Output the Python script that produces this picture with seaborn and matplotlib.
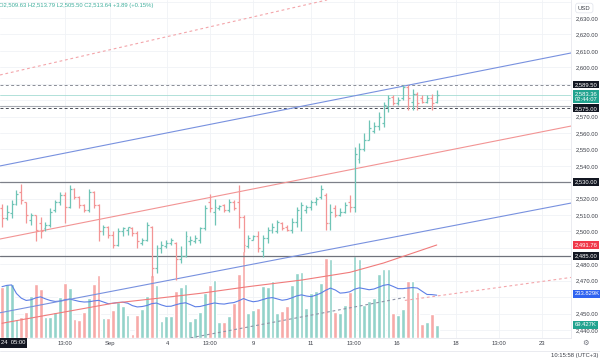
import matplotlib
matplotlib.use("Agg")
import matplotlib.pyplot as plt
import matplotlib.transforms as mtransforms
import numpy as np
import pandas as pd
import seaborn as sns

# 4H bars
opens = [2514, 2508, 2511, 2517, 2524, 2518, 2507, 2510, 2505, 2502,
         2504, 2513, 2518, 2522, 2515, 2526, 2521, 2516, 2513, 2524,
         2516, 2500, 2503, 2498, 2492, 2500, 2501, 2502, 2499, 2493,
         2495, 2503, 2478, 2490, 2491, 2493, 2493, 2483, 2485, 2494,
         2494, 2495, 2502, 2518, 2512, 2514, 2516, 2513, 2518, 2518,
         2509, 2491, 2495, 2497, 2488, 2496, 2501, 2500, 2505, 2503,
         2501, 2506, 2508, 2513, 2515, 2518, 2521, 2522, 2505, 2514,
         2510, 2512, 2518, 2515, 2544, 2550, 2556, 2561, 2564, 2566,
         2576, 2582, 2578, 2581, 2588, 2579, 2584, 2581, 2579, 2581,
         2579]
highs = [2517, 2516, 2519, 2525, 2529, 2518, 2511, 2510, 2509, 2506,
         2514, 2519, 2524, 2524, 2528.5, 2526.5, 2521.5, 2517, 2526, 2524.5,
         2517, 2504, 2503.5, 2500, 2502, 2503, 2503, 2502.5, 2500, 2496,
         2506, 2503.5, 2492, 2494, 2495, 2496, 2493.5, 2491, 2500, 2497,
         2498, 2503, 2516, 2523, 2520, 2516, 2517, 2520, 2519, 2528.3,
         2510, 2498, 2498, 2500, 2498, 2503, 2505, 2507, 2505.5, 2504,
         2508, 2515, 2518, 2516, 2519, 2521, 2528.3, 2523.2, 2517, 2516,
         2514, 2518, 2522, 2551.6, 2553.6, 2559.7, 2567.8, 2566.8, 2572.9, 2579,
         2583, 2583, 2582, 2589.2, 2589.2, 2587, 2585, 2583, 2583, 2584,
         2586]
lows = [2503, 2507, 2508, 2516, 2517, 2505, 2504, 2494, 2496, 2500,
        2503, 2512, 2516, 2505, 2514, 2520, 2514, 2512, 2512, 2514,
        2494, 2498, 2496, 2490, 2491, 2497, 2498, 2497, 2490, 2492,
        2494, 2472.5, 2474.5, 2487, 2490, 2492, 2470.5, 2480.5, 2484.5, 2492,
        2493, 2493, 2501, 2512, 2504, 2513, 2512, 2512, 2513, 2502,
        2487.7, 2489.7, 2494.8, 2487.7, 2484.7, 2492.8, 2499, 2499, 2501, 2500,
        2499, 2503, 2500, 2511, 2513, 2516, 2520, 2501, 2501, 2509,
        2509.5, 2511, 2512, 2512, 2541.5, 2549, 2555.7, 2559.7, 2561.8, 2563.8,
        2573, 2577, 2577, 2580, 2574, 2574, 2574, 2578, 2578, 2574,
        2578.5]
closes = [2508, 2512, 2517, 2523, 2519, 2510, 2510, 2501, 2500, 2504,
          2512, 2518, 2522, 2515, 2526, 2521, 2516, 2513, 2524, 2516,
          2500, 2503, 2498, 2492, 2500, 2502, 2502.5, 2499, 2494, 2495,
          2504, 2478, 2490, 2492, 2493, 2495, 2483, 2485, 2497, 2495,
          2496, 2502, 2514, 2514, 2515, 2515.5, 2513, 2518, 2514, 2509,
          2492, 2496, 2497, 2490, 2496, 2501, 2503, 2506, 2502, 2501,
          2506, 2513, 2516, 2515, 2518, 2520, 2526, 2505, 2512, 2510,
          2512, 2516, 2515, 2547, 2550, 2556, 2563, 2564, 2570, 2577,
          2581, 2578, 2580, 2588, 2581, 2584, 2578, 2579, 2581, 2578,
          2583.36]
volumes_k = [270, 284, 284, 98, 112, 138, 221, 284, 258, 110,
             112, 138, 217, 288, 265, 100, 95, 135, 209, 284,
             332, 107, 107, 147, 191, 170, 121, 21, 121, 151,
             223, 332, 279, 89, 116, 116, 249, 270, 282, 89,
             107, 135, 235, 279, 305, 86, 86, 118, 182, 337,
             458, 130, 147, 160, 275, 270, 302, 130, 142, 168,
             279, 340, 349, 156, 235, 250, 290, 420, 414, 138,
             130, 174, 244, 433, 416, 174, 196, 209, 337, 363,
             363, 133, 121, 153, 300, 300, 240, 74, 83, 125,
             69.427]

# moving average on price (red curve), sampled points
sma_bars = [0, 23, 31, 41, 51, 62, 72, 79, 90]
sma_vals = [2444.1, 2456.3, 2458.9, 2462.3, 2466.4, 2470.4, 2475.1, 2480.8, 2491.76]

# drawn trend lines: (bar0, price0, bar1, price1)
blue_upper = (-0.414, 2539.9, 117.8, 2608.7)
blue_lower = (-0.414, 2450.5, 117.8, 2517.3)
red_mid = (-0.414, 2495.4, 117.8, 2564.2)
red_dash_top = (-0.414, 2595.3, 67.3, 2641.0)
gray_dash = (30.0, 2430.2, 83.4, 2459.8)
red_dash_low = (83.4, 2458.0, 117.8, 2472.0)

time_ticks = [13.0, 22.4, 34.2, 43.1, 52.0, 64.0, 72.9, 81.8, 94.0, 102.9, 111.8]
time_labels = ["13:00", "Sep", "4", "13:00", "9", "11", "13:00", "16", "18", "13:00", "23"]
price_ticks = [2630, 2620, 2610, 2600, 2570, 2560, 2550, 2540, 2520, 2510,
               2500, 2480, 2470, 2450, 2440]

sns.set_theme(style="white")
plt.rcParams["font.family"] = ["Liberation Sans", "DejaVu Sans"]

W, H = 600, 363
FS = 4.2
fig = plt.figure(figsize=(W / 100, H / 100), dpi=100)
ax = fig.add_axes([0, 1 - 338 / H, 571 / W, 338 / H])
ax_vol = ax.twinx()
ax.set_zorder(ax_vol.get_zorder() + 1)
ax.patch.set_visible(False)
ax_vol.set_facecolor("white")

ylo, yhi = 2435.12, 2640.96
vol_top = 338 / 0.19
xlo, xhi = -0.414, 117.8

bars = np.arange(len(closes))
up = np.array(closes) >= np.array(opens)
bar_cols = ["#6fc4b6" if u else "#f39595" for u in up]
vol_cols = ["#93d3ca" if u else "#f7aaa8" for u in up]

# grid under everything
for p in range(2440, 2641, 10):
    ax_vol.axhline((p - ylo) / (yhi - ylo) * vol_top, color="#f0f2f6", lw=0.6, zorder=0)
for t in time_ticks:
    ax_vol.axvline(t, color="#f0f2f6", lw=0.6, zorder=0)

# volume
ax_vol.bar(bars, volumes_k, width=0.78, color=vol_cols, zorder=1)
vol_ma = pd.Series(volumes_k).rolling(20, min_periods=1).mean()
sns.lineplot(x=bars, y=vol_ma.values, ax=ax_vol, color="#5d7fe6", linewidth=0.8, zorder=2)
ax_vol.set_ylim(0, vol_top)
ax_vol.set_yticks([])

# horizontal levels
ax.axhline(2589.5, color="#8a8d96", lw=0.7, ls=(0, (3, 2.5)))
ax.axhline(2583.36, color="#a5dcd3", lw=0.6)
ax.axhline(2576.3, color="#a7aab2", lw=0.8)
ax.axhline(2575.0, color="#4a4d57", lw=0.7, ls=(0, (3, 2.5)))
ax.axhline(2530, color="#7d8089", lw=0.9)
ax.axhline(2485, color="#6f727b", lw=0.9)

# trend lines
for (x0, p0, x1, p1), col, ls in [
        (blue_upper, "#7891df", "-"), (blue_lower, "#7891df", "-"),
        (red_mid, "#f29494", "-"), (red_dash_top, "#f3a5aa", (0, (2.5, 2.5))),
        (gray_dash, "#8d93a6", (0, (2.5, 2.5))), (red_dash_low, "#f3a5aa", (0, (2.5, 2.5)))]:
    ax.plot([x0, x1], [p0, p1], color=col, lw=0.8, ls=ls)

sns.lineplot(x=sma_bars, y=sma_vals, ax=ax, color="#f07b7b", linewidth=0.8)

# OHLC bars
ax.vlines(bars, lows, highs, colors=bar_cols, linewidth=0.9, zorder=5)
ax.hlines(opens, bars - 0.4, bars, colors=bar_cols, linewidth=0.9, zorder=5)
ax.hlines(closes, bars, bars + 0.4, colors=bar_cols, linewidth=0.9, zorder=5)

ax.set_xlim(xlo, xhi)
ax.set_ylim(ylo, yhi)
ax.yaxis.tick_right()
ax.set_yticks(price_ticks, [f"{v:,.2f}" for v in price_ticks])
ax.set_xticks(time_ticks, time_labels)
ax.tick_params(axis="y", length=0, pad=3.5, labelsize=FS, labelcolor="#3b3e47")
ax.tick_params(axis="x", length=0, pad=2.5, labelsize=FS, labelcolor="#3b3e47")
for a in (ax, ax_vol):
    for s in a.spines.values():
        s.set_visible(False)
ax.spines["right"].set_visible(True)
ax.spines["right"].set_color("#e6e8ee")
ax.spines["right"].set_linewidth(0.6)
ax.spines["bottom"].set_visible(True)
ax.spines["bottom"].set_color("#e6e8ee")
ax.spines["bottom"].set_linewidth(0.6)


def tag(axis, y, text, fc):
    tr = mtransforms.blended_transform_factory(axis.transAxes, axis.transData)
    axis.text(1.006, y, text, transform=tr, ha="left", va="center", fontsize=FS,
              color="white", linespacing=1.1, clip_on=False, zorder=20,
              bbox=dict(boxstyle="square,pad=0.25", fc=fc, ec="none"))


tag(ax, 2589.5, "2,589.50", "#131722")
tag(ax, 2582.2, "2,583.36\n02:44:07", "#22a38f")
tag(ax, 2575.0, "2,575.00", "#131722")
tag(ax, 2530.0, "2,530.00", "#131722")
tag(ax, 2491.76, "2,491.76", "#f0394a")
tag(ax, 2485.0, "2,485.00", "#131722")
tag(ax_vol, 233.829, "233.829K", "#2f63f0")
tag(ax_vol, 69.427, "69.427K", "#22a38f")

# header / footer texts
fig.text(-1 / W, 1 - 6 / H, "O2,509.63 H2,513.79 L2,505.50 C2,513.64 +3.89 (+0.15%)",
         fontsize=FS, color="#3fae9c", ha="left", va="center")
fig.text(578 / W, 1 - 8 / H, "USD", fontsize=FS, color="#3b3e47", ha="left", va="center",
         bbox=dict(boxstyle="round,pad=0.4", fc="white", ec="#e0e3eb", lw=0.5))
fig.text(1 / W, 1 - 343 / H, "24  05:00", fontsize=FS, color="white", ha="left", va="center",
         bbox=dict(boxstyle="square,pad=0.35", fc="#131722", ec="none"))
fig.text(598 / W, 1 - 356 / H, "10:15:58 (UTC+3)", fontsize=FS, color="#3b3e47",
         ha="right", va="center")
fig.text(586 / W, 1 - 343 / H, "\u2699", fontsize=FS + 1, color="#6a6d78",
         ha="center", va="center", family=["DejaVu Sans"])
fig.add_artist(plt.Line2D([0, 1], [1 - 351 / H, 1 - 351 / H], color="#e6e8ee", lw=0.6))

fig.savefig("out.png", dpi=100)
